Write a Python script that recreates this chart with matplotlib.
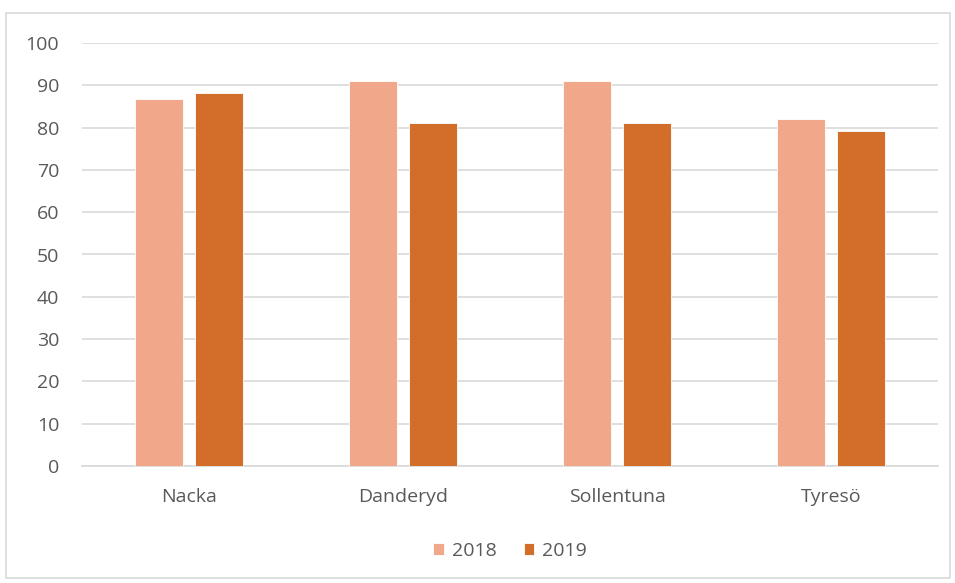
import matplotlib.pyplot as plt
import numpy as np
from matplotlib.patches import Rectangle

categories = ["Nacka", "Danderyd", "Sollentuna", "Tyresö"]
values_2018 = [86.8, 91.0, 91.0, 82.0]
values_2019 = [88.2, 81.1, 81.1, 79.2]
series_labels = ["2018", "2019"]

plt.rcParams["font.family"] = ["Open Sans", "DejaVu Sans"]
text_color = "#595959"
grid_color = "#d9d9d9"

fig = plt.figure(figsize=(9.55, 5.83), dpi=100)
ax = fig.add_axes([82 / 955, 1 - 466 / 583, 856 / 955, 423 / 583])

# outer chart frame
fig.patches.append(Rectangle((6 / 955, 5 / 583), 944 / 955, 565 / 583,
                             transform=fig.transFigure, fill=False,
                             edgecolor="#d9d9d9", linewidth=1.2))

x = np.arange(len(categories))
width = 0.224
ax.bar(x - 0.14, values_2018, width, color="#f1a88a", edgecolor="white",
       linewidth=0.6, label=series_labels[0], zorder=3)
ax.bar(x + 0.14, values_2019, width, color="#d36e2a", edgecolor="white",
       linewidth=0.6, label=series_labels[1], zorder=3)

ax.set_xlim(-0.5, len(categories) - 0.5)
ax.set_ylim(0, 100)
ax.set_yticks(range(0, 101, 10))
ax.set_xticks(x)
ax.set_xticklabels(categories)
ax.yaxis.grid(True, color=grid_color, linewidth=1.2, zorder=0)
ax.set_axisbelow(True)
for s in ["top", "right", "left"]:
    ax.spines[s].set_visible(False)
ax.spines["bottom"].set_color(grid_color)
ax.spines["bottom"].set_linewidth(1.2)
ax.tick_params(axis="y", length=0, pad=16.5, labelsize=14, labelcolor=text_color)
ax.tick_params(axis="x", length=0, pad=16, labelsize=14, labelcolor=text_color)

ax.legend(loc="center", bbox_to_anchor=(0.5, -0.2), ncol=2, frameon=False,
          fontsize=14, labelcolor=text_color, handlelength=0.55, handleheight=0.55,
          handletextpad=0.4, columnspacing=1.4)

fig.savefig("out.png", dpi=100)
